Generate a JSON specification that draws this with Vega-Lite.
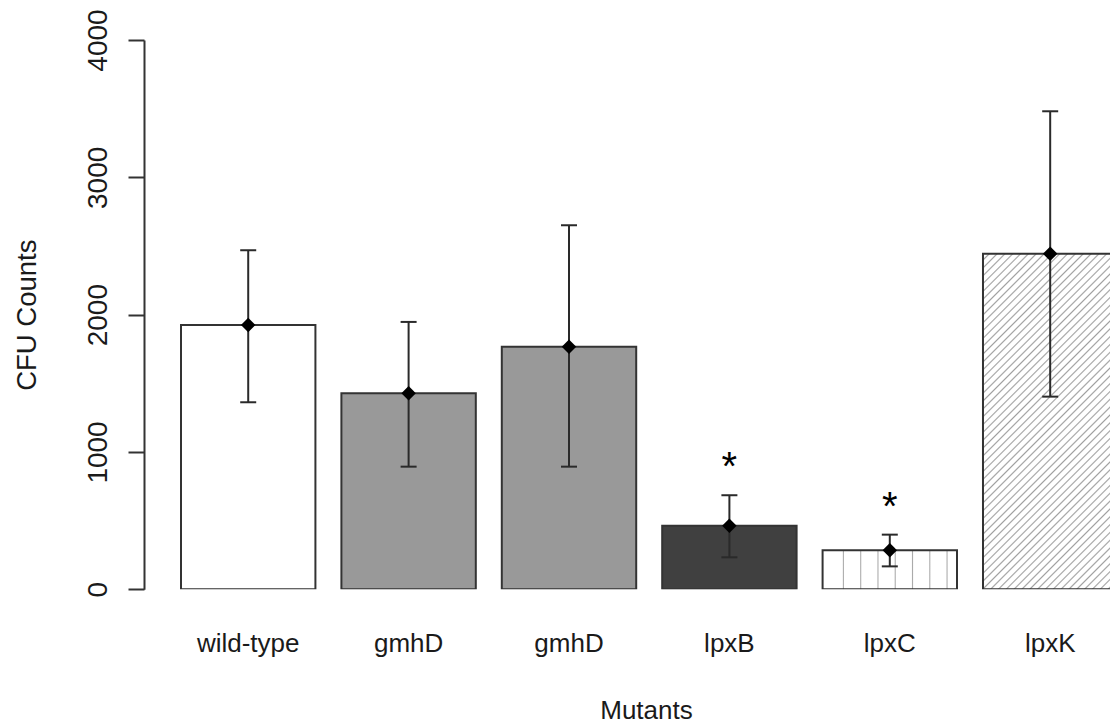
{
  "$schema": "https://vega.github.io/schema/vega-lite/v6.json",
  "autosize": {"type": "none"},
  "padding": {"left": 144, "top": 40, "right": 0, "bottom": 138.7},
  "width": 966,
  "height": 549.3,
  "background": "#ffffff",
  "config": {"view": {"stroke": null}, "font": "Liberation Sans"},
  "data": {
    "values": [
      {"key": "wild-type", "mean": 1925, "lo": 1362, "hi": 2469, "sig": ""},
      {"key": "gmhD#1", "mean": 1427, "lo": 893, "hi": 1947, "sig": ""},
      {"key": "gmhD#2", "mean": 1767, "lo": 893, "hi": 2651, "sig": ""},
      {"key": "lpxB", "mean": 463, "lo": 233, "hi": 685, "sig": "*"},
      {"key": "lpxC", "mean": 284, "lo": 167, "hi": 398, "sig": "*"},
      {"key": "lpxK", "mean": 2443, "lo": 1403, "hi": 3481, "sig": ""}
    ]
  },
  "encoding": {
    "x": {
      "field": "key",
      "type": "nominal",
      "sort": null,
      "scale": {"range": [0, 1010.4], "paddingInner": 0.162, "paddingOuter": 0.2307},
      "axis": {
        "title": "Mutants",
        "labelExpr": "replace(datum.label, /#\\d+$/, '')",
        "domain": false,
        "ticks": false,
        "tickSize": 0,
        "labelAngle": 0,
        "labelPadding": 62.4,
        "labelBaseline": "alphabetic",
        "labelFontSize": 26,
        "labelColor": "#1a1a1a",
        "labelFont": "Liberation Sans",
        "titleFont": "Liberation Sans",
        "titleFontSize": 26,
        "titleFontWeight": "normal",
        "titleColor": "#1a1a1a",
        "titleX": 502,
        "titleY": 129,
        "titleBaseline": "alphabetic",
        "titleAlign": "center"
      }
    }
  },
  "layer": [
    {
      "mark": {"type": "bar", "stroke": "#333333", "strokeWidth": 2, "clip": true},
      "encoding": {
        "y": {
          "field": "mean",
          "type": "quantitative",
          "scale": {"domain": [0, 4000], "nice": false},
          "axis": {
            "title": "CFU Counts",
            "values": [0, 1000, 2000, 3000, 4000],
            "format": "d",
            "grid": false,
            "domainColor": "#333333",
            "domainWidth": 2,
            "tickColor": "#333333",
            "tickWidth": 2,
            "tickSize": 16,
            "labelAngle": -90,
            "labelAlign": "center",
            "labelBaseline": "alphabetic",
            "labelPadding": 22,
            "labelFontSize": 28,
            "labelColor": "#1a1a1a",
            "labelFont": "Liberation Sans",
            "labelFlush": false,
            "labelOverlap": false,
            "labelBound": false,
            "titleFont": "Liberation Sans",
            "titleFontSize": 27.5,
            "titleFontWeight": "normal",
            "titleColor": "#1a1a1a",
            "titleAngle": -90,
            "titleX": -109,
            "titleY": 274.65,
            "titleBaseline": "alphabetic",
            "titleAlign": "center"
          }
        },
        "fill": {
          "condition": [
            {"test": "datum.key === 'lpxC'", "value": {
              "gradient": "linear", "x1": 0, "y1": 0, "x2": 1, "y2": 0,
              "stops": [
                {"offset": 0.147, "color": "#ffffff"}, {"offset": 0.155, "color": "#aaaaaa"}, {"offset": 0.163, "color": "#ffffff"},
                {"offset": 0.2755, "color": "#ffffff"}, {"offset": 0.2835, "color": "#aaaaaa"}, {"offset": 0.2915, "color": "#ffffff"},
                {"offset": 0.404, "color": "#ffffff"}, {"offset": 0.412, "color": "#aaaaaa"}, {"offset": 0.420, "color": "#ffffff"},
                {"offset": 0.5325, "color": "#ffffff"}, {"offset": 0.5405, "color": "#aaaaaa"}, {"offset": 0.5485, "color": "#ffffff"},
                {"offset": 0.661, "color": "#ffffff"}, {"offset": 0.669, "color": "#aaaaaa"}, {"offset": 0.677, "color": "#ffffff"},
                {"offset": 0.7895, "color": "#ffffff"}, {"offset": 0.7975, "color": "#aaaaaa"}, {"offset": 0.8055, "color": "#ffffff"},
                {"offset": 0.918, "color": "#ffffff"}, {"offset": 0.926, "color": "#aaaaaa"}, {"offset": 0.934, "color": "#ffffff"}
              ]
            }},
            {"test": "datum.key === 'lpxK'", "value": {
              "gradient": "linear", "x1": 0, "y1": 0, "x2": 0.4835, "y2": 1.2069,
              "stops": [
                {"offset": 0.0100, "color": "#ffffff"}, {"offset": 0.0133, "color": "#a0a0a0"}, {"offset": 0.0167, "color": "#ffffff"},
                {"offset": 0.0267, "color": "#ffffff"}, {"offset": 0.0300, "color": "#a0a0a0"}, {"offset": 0.0333, "color": "#ffffff"},
                {"offset": 0.0433, "color": "#ffffff"}, {"offset": 0.0467, "color": "#a0a0a0"}, {"offset": 0.0500, "color": "#ffffff"},
                {"offset": 0.0600, "color": "#ffffff"}, {"offset": 0.0633, "color": "#a0a0a0"}, {"offset": 0.0667, "color": "#ffffff"},
                {"offset": 0.0767, "color": "#ffffff"}, {"offset": 0.0800, "color": "#a0a0a0"}, {"offset": 0.0833, "color": "#ffffff"},
                {"offset": 0.0933, "color": "#ffffff"}, {"offset": 0.0967, "color": "#a0a0a0"}, {"offset": 0.1000, "color": "#ffffff"},
                {"offset": 0.1100, "color": "#ffffff"}, {"offset": 0.1133, "color": "#a0a0a0"}, {"offset": 0.1167, "color": "#ffffff"},
                {"offset": 0.1267, "color": "#ffffff"}, {"offset": 0.1300, "color": "#a0a0a0"}, {"offset": 0.1333, "color": "#ffffff"},
                {"offset": 0.1433, "color": "#ffffff"}, {"offset": 0.1467, "color": "#a0a0a0"}, {"offset": 0.1500, "color": "#ffffff"},
                {"offset": 0.1600, "color": "#ffffff"}, {"offset": 0.1633, "color": "#a0a0a0"}, {"offset": 0.1667, "color": "#ffffff"},
                {"offset": 0.1767, "color": "#ffffff"}, {"offset": 0.1800, "color": "#a0a0a0"}, {"offset": 0.1833, "color": "#ffffff"},
                {"offset": 0.1933, "color": "#ffffff"}, {"offset": 0.1967, "color": "#a0a0a0"}, {"offset": 0.2000, "color": "#ffffff"},
                {"offset": 0.2100, "color": "#ffffff"}, {"offset": 0.2133, "color": "#a0a0a0"}, {"offset": 0.2167, "color": "#ffffff"},
                {"offset": 0.2267, "color": "#ffffff"}, {"offset": 0.2300, "color": "#a0a0a0"}, {"offset": 0.2333, "color": "#ffffff"},
                {"offset": 0.2433, "color": "#ffffff"}, {"offset": 0.2467, "color": "#a0a0a0"}, {"offset": 0.2500, "color": "#ffffff"},
                {"offset": 0.2600, "color": "#ffffff"}, {"offset": 0.2633, "color": "#a0a0a0"}, {"offset": 0.2667, "color": "#ffffff"},
                {"offset": 0.2767, "color": "#ffffff"}, {"offset": 0.2800, "color": "#a0a0a0"}, {"offset": 0.2833, "color": "#ffffff"},
                {"offset": 0.2933, "color": "#ffffff"}, {"offset": 0.2967, "color": "#a0a0a0"}, {"offset": 0.3000, "color": "#ffffff"},
                {"offset": 0.3100, "color": "#ffffff"}, {"offset": 0.3133, "color": "#a0a0a0"}, {"offset": 0.3167, "color": "#ffffff"},
                {"offset": 0.3267, "color": "#ffffff"}, {"offset": 0.3300, "color": "#a0a0a0"}, {"offset": 0.3333, "color": "#ffffff"},
                {"offset": 0.3433, "color": "#ffffff"}, {"offset": 0.3467, "color": "#a0a0a0"}, {"offset": 0.3500, "color": "#ffffff"},
                {"offset": 0.3600, "color": "#ffffff"}, {"offset": 0.3633, "color": "#a0a0a0"}, {"offset": 0.3667, "color": "#ffffff"},
                {"offset": 0.3767, "color": "#ffffff"}, {"offset": 0.3800, "color": "#a0a0a0"}, {"offset": 0.3833, "color": "#ffffff"},
                {"offset": 0.3933, "color": "#ffffff"}, {"offset": 0.3967, "color": "#a0a0a0"}, {"offset": 0.4000, "color": "#ffffff"},
                {"offset": 0.4100, "color": "#ffffff"}, {"offset": 0.4133, "color": "#a0a0a0"}, {"offset": 0.4167, "color": "#ffffff"},
                {"offset": 0.4267, "color": "#ffffff"}, {"offset": 0.4300, "color": "#a0a0a0"}, {"offset": 0.4333, "color": "#ffffff"},
                {"offset": 0.4433, "color": "#ffffff"}, {"offset": 0.4467, "color": "#a0a0a0"}, {"offset": 0.4500, "color": "#ffffff"},
                {"offset": 0.4600, "color": "#ffffff"}, {"offset": 0.4633, "color": "#a0a0a0"}, {"offset": 0.4667, "color": "#ffffff"},
                {"offset": 0.4767, "color": "#ffffff"}, {"offset": 0.4800, "color": "#a0a0a0"}, {"offset": 0.4833, "color": "#ffffff"},
                {"offset": 0.4933, "color": "#ffffff"}, {"offset": 0.4967, "color": "#a0a0a0"}, {"offset": 0.5000, "color": "#ffffff"},
                {"offset": 0.5100, "color": "#ffffff"}, {"offset": 0.5133, "color": "#a0a0a0"}, {"offset": 0.5167, "color": "#ffffff"},
                {"offset": 0.5267, "color": "#ffffff"}, {"offset": 0.5300, "color": "#a0a0a0"}, {"offset": 0.5333, "color": "#ffffff"},
                {"offset": 0.5433, "color": "#ffffff"}, {"offset": 0.5467, "color": "#a0a0a0"}, {"offset": 0.5500, "color": "#ffffff"},
                {"offset": 0.5600, "color": "#ffffff"}, {"offset": 0.5633, "color": "#a0a0a0"}, {"offset": 0.5667, "color": "#ffffff"},
                {"offset": 0.5767, "color": "#ffffff"}, {"offset": 0.5800, "color": "#a0a0a0"}, {"offset": 0.5833, "color": "#ffffff"},
                {"offset": 0.5933, "color": "#ffffff"}, {"offset": 0.5967, "color": "#a0a0a0"}, {"offset": 0.6000, "color": "#ffffff"},
                {"offset": 0.6100, "color": "#ffffff"}, {"offset": 0.6133, "color": "#a0a0a0"}, {"offset": 0.6167, "color": "#ffffff"},
                {"offset": 0.6267, "color": "#ffffff"}, {"offset": 0.6300, "color": "#a0a0a0"}, {"offset": 0.6333, "color": "#ffffff"},
                {"offset": 0.6433, "color": "#ffffff"}, {"offset": 0.6467, "color": "#a0a0a0"}, {"offset": 0.6500, "color": "#ffffff"},
                {"offset": 0.6600, "color": "#ffffff"}, {"offset": 0.6633, "color": "#a0a0a0"}, {"offset": 0.6667, "color": "#ffffff"},
                {"offset": 0.6767, "color": "#ffffff"}, {"offset": 0.6800, "color": "#a0a0a0"}, {"offset": 0.6833, "color": "#ffffff"},
                {"offset": 0.6933, "color": "#ffffff"}, {"offset": 0.6967, "color": "#a0a0a0"}, {"offset": 0.7000, "color": "#ffffff"},
                {"offset": 0.7100, "color": "#ffffff"}, {"offset": 0.7133, "color": "#a0a0a0"}, {"offset": 0.7167, "color": "#ffffff"},
                {"offset": 0.7267, "color": "#ffffff"}, {"offset": 0.7300, "color": "#a0a0a0"}, {"offset": 0.7333, "color": "#ffffff"},
                {"offset": 0.7433, "color": "#ffffff"}, {"offset": 0.7467, "color": "#a0a0a0"}, {"offset": 0.7500, "color": "#ffffff"},
                {"offset": 0.7600, "color": "#ffffff"}, {"offset": 0.7633, "color": "#a0a0a0"}, {"offset": 0.7667, "color": "#ffffff"},
                {"offset": 0.7767, "color": "#ffffff"}, {"offset": 0.7800, "color": "#a0a0a0"}, {"offset": 0.7833, "color": "#ffffff"},
                {"offset": 0.7933, "color": "#ffffff"}, {"offset": 0.7967, "color": "#a0a0a0"}, {"offset": 0.8000, "color": "#ffffff"},
                {"offset": 0.8100, "color": "#ffffff"}, {"offset": 0.8133, "color": "#a0a0a0"}, {"offset": 0.8167, "color": "#ffffff"},
                {"offset": 0.8267, "color": "#ffffff"}, {"offset": 0.8300, "color": "#a0a0a0"}, {"offset": 0.8333, "color": "#ffffff"},
                {"offset": 0.8433, "color": "#ffffff"}, {"offset": 0.8467, "color": "#a0a0a0"}, {"offset": 0.8500, "color": "#ffffff"},
                {"offset": 0.8600, "color": "#ffffff"}, {"offset": 0.8633, "color": "#a0a0a0"}, {"offset": 0.8667, "color": "#ffffff"},
                {"offset": 0.8767, "color": "#ffffff"}, {"offset": 0.8800, "color": "#a0a0a0"}, {"offset": 0.8833, "color": "#ffffff"},
                {"offset": 0.8933, "color": "#ffffff"}, {"offset": 0.8967, "color": "#a0a0a0"}, {"offset": 0.9000, "color": "#ffffff"},
                {"offset": 0.9100, "color": "#ffffff"}, {"offset": 0.9133, "color": "#a0a0a0"}, {"offset": 0.9167, "color": "#ffffff"},
                {"offset": 0.9267, "color": "#ffffff"}, {"offset": 0.9300, "color": "#a0a0a0"}, {"offset": 0.9333, "color": "#ffffff"},
                {"offset": 0.9433, "color": "#ffffff"}, {"offset": 0.9467, "color": "#a0a0a0"}, {"offset": 0.9500, "color": "#ffffff"},
                {"offset": 0.9600, "color": "#ffffff"}, {"offset": 0.9633, "color": "#a0a0a0"}, {"offset": 0.9667, "color": "#ffffff"},
                {"offset": 0.9767, "color": "#ffffff"}, {"offset": 0.9800, "color": "#a0a0a0"}, {"offset": 0.9833, "color": "#ffffff"},
                {"offset": 0.9933, "color": "#ffffff"}, {"offset": 0.9967, "color": "#a0a0a0"}, {"offset": 1.0000, "color": "#ffffff"}
              ]
            }},
            {"test": "datum.key === 'lpxB'", "value": "#404040"},
            {"test": "indexof(datum.key, 'gmhD') === 0", "value": "#999999"}
          ],
          "value": "#ffffff"
        }
      }
    },
    {
      "mark": {"type": "rule", "color": "#2a2a2a", "strokeWidth": 2},
      "encoding": {
        "y": {"field": "lo", "type": "quantitative"},
        "y2": {"field": "hi"}
      }
    },
    {
      "mark": {"type": "tick", "orient": "horizontal", "color": "#2a2a2a", "size": 16, "thickness": 2, "opacity": 1},
      "encoding": {"y": {"field": "lo", "type": "quantitative"}}
    },
    {
      "mark": {"type": "tick", "orient": "horizontal", "color": "#2a2a2a", "size": 16, "thickness": 2, "opacity": 1},
      "encoding": {"y": {"field": "hi", "type": "quantitative"}}
    },
    {
      "mark": {"type": "point", "shape": "diamond", "filled": true, "size": 210, "color": "#000000", "opacity": 1, "strokeWidth": 0},
      "encoding": {"y": {"field": "mean", "type": "quantitative"}}
    },
    {
      "mark": {"type": "text", "fontSize": 40, "font": "Liberation Sans", "color": "#000000", "baseline": "alphabetic", "align": "center", "dy": -15},
      "encoding": {
        "y": {"field": "hi", "type": "quantitative"},
        "text": {"field": "sig"}
      }
    }
  ]
}
